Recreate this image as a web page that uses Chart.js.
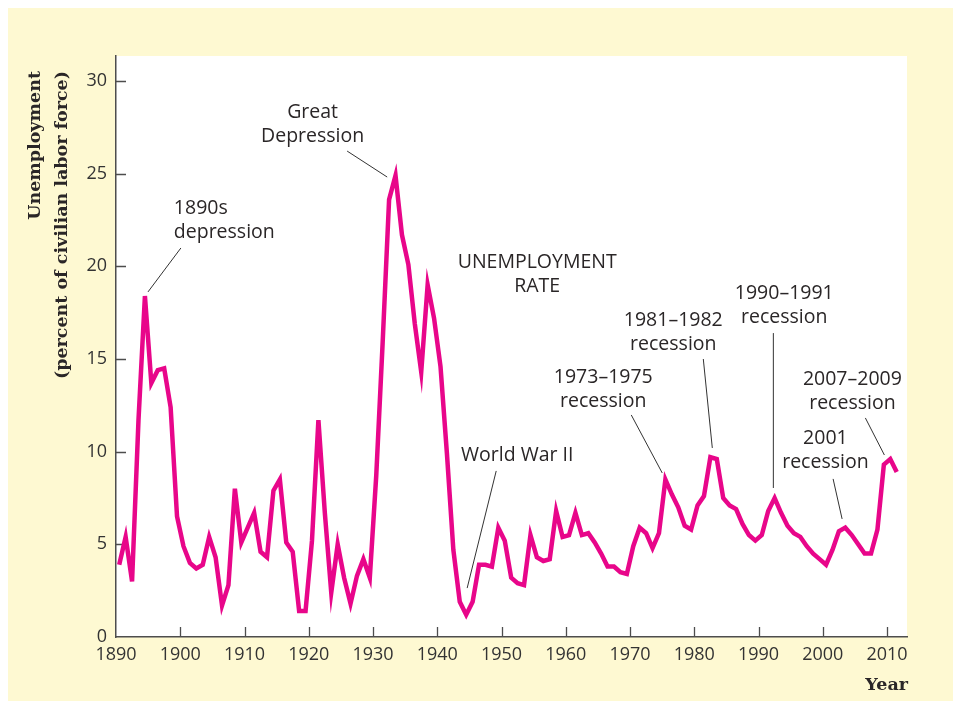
<!DOCTYPE html>
<html>
<head>
<meta charset="utf-8">
<script src="https://cdn.jsdelivr.net/npm/chart.js@4.4.1/dist/chart.umd.min.js"></script>
<style>
  html, body { margin: 0; padding: 0; background: #ffffff; }
  canvas { display: block; }
</style>
</head>
<body>
<canvas id="c" width="953" height="701"></canvas>
<script>
// ---------------- DATA ----------------
const years = [
  1890, 1891, 1892, 1893, 1894, 1895, 1896, 1897, 1898, 1899,
  1900, 1901, 1902, 1903, 1904, 1905, 1906, 1907, 1908, 1909,
  1910, 1911, 1912, 1913, 1914, 1915, 1916, 1917, 1918, 1919,
  1920, 1921, 1922, 1923, 1924, 1925, 1926, 1927, 1928, 1929,
  1930, 1931, 1932, 1933, 1934, 1935, 1936, 1937, 1938, 1939,
  1940, 1941, 1942, 1943, 1944, 1945, 1946, 1947, 1948, 1949,
  1950, 1951, 1952, 1953, 1954, 1955, 1956, 1957, 1958, 1959,
  1960, 1961, 1962, 1963, 1964, 1965, 1966, 1967, 1968, 1969,
  1970, 1971, 1972, 1973, 1974, 1975, 1976, 1977, 1978, 1979,
  1980, 1981, 1982, 1983, 1984, 1985, 1986, 1987, 1988, 1989,
  1990, 1991, 1992, 1993, 1994, 1995, 1996, 1997, 1998, 1999,
  2000, 2001, 2002, 2003, 2004, 2005, 2006, 2007, 2008, 2009,
  2010, 2011
];
const unemploymentRate = [
  3.9, 5.4, 3.0, 11.7, 18.4, 13.7, 14.4, 14.5, 12.4, 6.5,
  4.9, 4.0, 3.7, 3.9, 5.4, 4.3, 1.7, 2.8, 8.0, 5.1,
  5.9, 6.7, 4.6, 4.3, 7.9, 8.5, 5.1, 4.6, 1.4, 1.4,
  5.2, 11.7, 6.7, 2.4, 5.0, 3.2, 1.8, 3.3, 4.2, 3.2,
  8.7, 15.9, 23.6, 24.9, 21.7, 20.1, 16.9, 14.3, 19.0, 17.2,
  14.6, 9.9, 4.7, 1.9, 1.2, 1.9, 3.9, 3.9, 3.8, 5.9,
  5.2, 3.2, 2.9, 2.8, 5.5, 4.3, 4.1, 4.2, 6.8, 5.4,
  5.5, 6.7, 5.5, 5.6, 5.1, 4.5, 3.8, 3.8, 3.5, 3.4,
  4.9, 5.9, 5.6, 4.8, 5.6, 8.5, 7.7, 7.0, 6.0, 5.8,
  7.1, 7.6, 9.7, 9.6, 7.5, 7.1, 6.9, 6.1, 5.5, 5.2,
  5.5, 6.8, 7.5, 6.7, 6.0, 5.6, 5.4, 4.9, 4.5, 4.2,
  3.9, 4.7, 5.7, 5.9, 5.5, 5.0, 4.5, 4.5, 5.8, 9.3,
  9.6, 8.9
];
const xTickLabels = ['1890','1900','1910','1920','1930','1940','1950','1960','1970','1980','1990','2000','2010'];
const yTickLabels = ['0','5','10','15','20','25','30'];

// annotation texts (anchored in data units: year, percent)
const annotationLines = [
  ['Great', 'Depression'],
  ['1890s', 'depression'],
  ['UNEMPLOYMENT', 'RATE'],
  ['World War II'],
  ['1973\u20131975', 'recession'],
  ['1981\u20131982', 'recession'],
  ['1990\u20131991', 'recession'],
  ['2007\u20132009', 'recession'],
  ['2001', 'recession']
];
const annotationAnchors = [
  {x: 1920.6, y: 28.28, align: 'center', lead: [1925.97, 26.22, 1932.2, 24.82]},
  {x: 1899.0, y: 23.15, align: 'left',   lead: [1900.1, 20.99, 1894.98, 18.62]},
  {x: 1955.55, y: 20.23, align: 'center', lead: null},
  {x: 1952.44, y: 9.82, align: 'center', lead: [1949.17, 8.96, 1944.65, 2.64]},
  {x: 1965.83, y: 14.03, align: 'center', lead: [1970.19, 11.98, 1975.01, 8.85]},
  {x: 1976.73, y: 17.10, align: 'center', lead: [1981.4, 15.0, 1982.8, 10.2]},
  {x: 1994.0, y: 18.56, align: 'center', lead: [1992.3, 16.4, 1992.3, 8.04]},
  {x: 2004.6, y: 13.92, align: 'center', lead: [2006.62, 11.82, 2009.58, 9.82]},
  {x: 2000.4, y: 10.74, align: 'center', lead: [2001.6, 8.53, 2003.0, 6.37]}
];

// ---------------- STYLE ----------------
const PANEL = '#fef9d2';
const LINE = '#e8068a';
const TEXT = '#2a2627';
const AXIS = '#4d4d4d';
const SANS = "'Open Sans', 'Noto Sans', sans-serif";
const SERIF = "'DejaVu Serif', 'Liberation Serif', serif";

const backgroundPlugin = {
  id: 'bg',
  beforeDraw(chart) {
    const ctx = chart.ctx, a = chart.chartArea;
    ctx.save();
    ctx.fillStyle = '#ffffff';
    ctx.fillRect(0, 0, chart.width, chart.height);
    ctx.fillStyle = PANEL;
    ctx.fillRect(8, 8, chart.width - 8, chart.height - 8);
    ctx.fillStyle = '#ffffff';
    ctx.fillRect(a.left, a.top, a.right - a.left, a.bottom - a.top);
    ctx.restore();
  },
  beforeDatasetsDraw(chart) {
    // inward tick marks
    const ctx = chart.ctx, xs = chart.scales.x, ys = chart.scales.y, a = chart.chartArea;
    ctx.save();
    ctx.strokeStyle = AXIS;
    ctx.lineWidth = 1.3;
    ctx.beginPath();
    xTickLabels.forEach(t => {
      const px = Math.round(xs.getPixelForValue(+t)) + 0.5;
      if (+t === 1890) return;
      ctx.moveTo(px, a.bottom);
      ctx.lineTo(px, a.bottom - 10);
    });
    yTickLabels.forEach(t => {
      const py = Math.round(ys.getPixelForValue(+t)) + 0.5;
      if (+t === 0) return;
      ctx.moveTo(a.left, py);
      ctx.lineTo(a.left + 10, py);
    });
    ctx.stroke();
    ctx.restore();
  },
  afterDraw(chart) {
    const ctx = chart.ctx, xs = chart.scales.x, ys = chart.scales.y, a = chart.chartArea;
    ctx.save();
    // annotations
    ctx.fillStyle = TEXT;
    ctx.font = '19.5px ' + SANS;
    ctx.textBaseline = 'middle';
    annotationAnchors.forEach((an, i) => {
      const px = xs.getPixelForValue(an.x);
      const py = ys.getPixelForValue(an.y);
      ctx.textAlign = an.align;
      annotationLines[i].forEach((s, k) => ctx.fillText(s, px, py + k * 24));
      if (an.lead) {
        ctx.strokeStyle = '#333';
        ctx.lineWidth = 1;
        ctx.beginPath();
        ctx.moveTo(xs.getPixelForValue(an.lead[0]), ys.getPixelForValue(an.lead[1]));
        ctx.lineTo(xs.getPixelForValue(an.lead[2]), ys.getPixelForValue(an.lead[3]));
        ctx.stroke();
      }
    });
    // y-axis title (rotated, end-aligned at top)
    ctx.font = 'bold 17.5px ' + SERIF;
    ctx.fillStyle = TEXT;
    ctx.save();
    ctx.translate(35, 71);
    ctx.rotate(-Math.PI / 2);
    ctx.textAlign = 'right';
    ctx.textBaseline = 'middle';
    ctx.fillText('Unemployment', 0, 0);
    ctx.fillText('(percent of civilian labor force)', 0, 27);
    ctx.restore();
    // x-axis title
    ctx.textAlign = 'right';
    ctx.textBaseline = 'middle';
    ctx.fillText('Year', a.right + 1, 685);
    ctx.restore();
  }
};

const chart = new Chart(document.getElementById('c'), {
  type: 'line',
  data: {
    datasets: [{
      // annual averages plotted at mid-year
      data: years.map((y, i) => ({x: y + 0.5, y: unemploymentRate[i]})),
      borderColor: LINE,
      borderWidth: 4.5,
      pointRadius: 0,
      tension: 0,
      borderJoinStyle: 'miter',
      borderCapStyle: 'butt',
      fill: false
    }]
  },
  options: {
    responsive: false,
    animation: false,
    devicePixelRatio: 1,
    layout: { padding: { top: 56, right: 46, left: 0, bottom: 0 } },
    plugins: { legend: { display: false }, tooltip: { enabled: false } },
    scales: {
      x: {
        type: 'linear',
        min: 1890,
        max: 2013.1,
        afterBuildTicks: s => { s.ticks = xTickLabels.map(v => ({ value: +v })); },
        afterFit: s => { s.height = 64; },
        grid: { display: false, drawTicks: false },
        border: { display: true, color: AXIS, width: 1.5 },
        ticks: {
          autoSkip: false, maxRotation: 0, padding: 7,
          color: '#333', font: { family: SANS, size: 18 },
          callback: v => String(v)
        }
      },
      y: {
        min: 0,
        max: 31.35,
        afterBuildTicks: s => { s.ticks = yTickLabels.map(v => ({ value: +v })); },
        afterFit: s => { s.width = 116; },
        grid: { display: false, drawTicks: false },
        border: { display: true, color: AXIS, width: 1.5 },
        ticks: {
          padding: 9,
          color: '#333', font: { family: SANS, size: 18 },
          callback: v => String(v)
        }
      }
    }
  },
  plugins: [backgroundPlugin]
});
</script>
</body>
</html>
